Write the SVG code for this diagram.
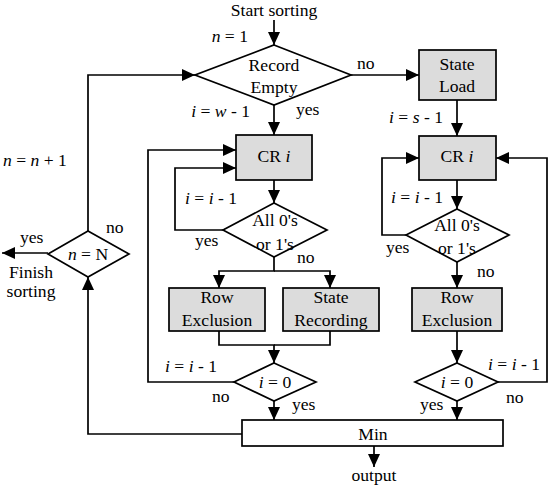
<svg xmlns="http://www.w3.org/2000/svg" width="548" height="488" viewBox="0 0 548 488" font-family="'Liberation Serif', 'DejaVu Serif', serif" font-size="17.6">
<style>
text{fill:#000}
.c{text-anchor:middle}
.e{text-anchor:end}
.box{fill:#dcdcdc;stroke:#000;stroke-width:1.7}
.wbox{fill:#fff;stroke:#000;stroke-width:1.7}
.dia{fill:#fff;stroke:#000;stroke-width:1.7}
.ln{fill:none;stroke:#000;stroke-width:1.7}
.a{marker-end:url(#ah)}
</style>
<defs>
<marker id="ah" markerUnits="userSpaceOnUse" markerWidth="14" markerHeight="12" refX="13" refY="6" orient="auto">
<path d="M0,0 L13,6 L0,12 Z" fill="#000"/>
</marker>
</defs>
<rect width="548" height="488" fill="#fff"/>
<g id="connectors">
<path class="ln a" d="M274,20 V45"/>
<path class="ln a" d="M274,105 V135"/>
<path class="ln a" d="M351,75 H419"/>
<path class="ln a" d="M457,100 V136"/>
<path class="ln a" d="M274,180 V203"/>
<path class="ln a" d="M223,230 H175 V168 H236"/>
<path class="ln a" d="M274,257 V271 H219 V288"/>
<path class="ln a" d="M274,271 H330 V288"/>
<path class="ln a" d="M219,331 V345 H274 V363"/>
<path class="ln" d="M330,331 V345 H274"/>
<path class="ln a" d="M234,382 H148 V150 H236"/>
<path class="ln a" d="M274,401 V420"/>
<path class="ln a" d="M242,434 H88 V277"/>
<path class="ln a" d="M88,231 V75 H195"/>
<path class="ln a" d="M48,253 H2"/>
<path class="ln a" d="M374,446 V467"/>
<path class="ln a" d="M457,180 V209"/>
<path class="ln a" d="M406,235 H382 V158 H419"/>
<path class="ln a" d="M457,262 V288"/>
<path class="ln a" d="M457,331 V363"/>
<path class="ln a" d="M498,382 H547 V158 H496"/>
<path class="ln a" d="M457,401 V420"/>
</g>
<g id="labels">
<text class="c" x="274" y="16">Start sorting</text>
<text class="e" x="248" y="42"><tspan font-style="italic">n</tspan> = 1</text>
<text x="357" y="69">no</text>
<text x="296" y="115">yes</text>
<text class="e" x="250" y="117"><tspan font-style="italic">i</tspan> = <tspan font-style="italic">w</tspan> - 1</text>
<text class="e" x="443" y="123"><tspan font-style="italic">i</tspan> = <tspan font-style="italic">s</tspan> - 1</text>
<text x="3" y="166"><tspan font-style="italic">n</tspan> = <tspan font-style="italic">n</tspan> + 1</text>
<text class="e" x="237" y="204"><tspan font-style="italic">i</tspan> = <tspan font-style="italic">i</tspan> - 1</text>
<text class="e" x="443" y="203"><tspan font-style="italic">i</tspan> = <tspan font-style="italic">i</tspan> - 1</text>
<text x="195" y="246">yes</text>
<text x="297" y="263">no</text>
<text x="386" y="253">yes</text>
<text x="477" y="277">no</text>
<text x="106" y="233">no</text>
<text x="20" y="243">yes</text>
<text class="c" x="31" y="278">Finish</text>
<text class="c" x="31" y="297">sorting</text>
<text class="e" x="217" y="372"><tspan font-style="italic">i</tspan> = <tspan font-style="italic">i</tspan> - 1</text>
<text class="e" x="540" y="370"><tspan font-style="italic">i</tspan> = <tspan font-style="italic">i</tspan> - 1</text>
<text x="212" y="402">no</text>
<text x="506" y="403">no</text>
<text x="292" y="410">yes</text>
<text x="420" y="410">yes</text>
<text class="c" x="374" y="481">output</text>
</g>
<g id="record-empty">
<path class="dia" d="M274,45 L351,75 L274,105 L195,75 Z"/>
<text class="c" x="274" y="71">Record</text>
<text class="c" x="274" y="93">Empty</text>
</g>
<g id="state-load">
<rect class="box" x="419" y="50" width="77" height="50"/>
<text class="c" x="457" y="70">State</text>
<text class="c" x="457" y="92">Load</text>
</g>
<g id="cr-left">
<rect class="box" x="236" y="135" width="76" height="45"/>
<text class="c" x="274" y="162">CR <tspan font-style="italic">i</tspan></text>
</g>
<g id="cr-right">
<rect class="box" x="419" y="136" width="77" height="44"/>
<text class="c" x="457" y="162">CR <tspan font-style="italic">i</tspan></text>
</g>
<g id="all-left">
<path class="dia" d="M274,203 L327,230 L274,257 L223,230 Z"/>
<text class="c" x="275" y="226">All 0's</text>
<text class="c" x="275" y="250">or 1's</text>
</g>
<g id="all-right">
<path class="dia" d="M457,209 L509,235 L457,262 L406,235 Z"/>
<text class="c" x="457" y="231">All 0's</text>
<text class="c" x="457" y="254">or 1's</text>
</g>
<g id="row-excl-left">
<rect class="box" x="169" y="288" width="96" height="43"/>
<text class="c" x="217" y="303">Row</text>
<text class="c" x="217" y="326">Exclusion</text>
</g>
<g id="state-rec">
<rect class="box" x="283" y="288" width="96" height="43"/>
<text class="c" x="331" y="303">State</text>
<text class="c" x="331" y="326">Recording</text>
</g>
<g id="row-excl-right">
<rect class="box" x="412" y="288" width="90" height="43"/>
<text class="c" x="457" y="303">Row</text>
<text class="c" x="457" y="326">Exclusion</text>
</g>
<g id="i0-left">
<path class="dia" d="M274,363 L316,382 L274,401 L234,382 Z"/>
<text class="c" x="275" y="388"><tspan font-style="italic">i</tspan> = 0</text>
</g>
<g id="i0-right">
<path class="dia" d="M457,363 L498,382 L457,401 L415,382 Z"/>
<text class="c" x="457" y="388"><tspan font-style="italic">i</tspan> = 0</text>
</g>
<g id="n-eq-N">
<path class="dia" d="M88,231 L129,254 L88,277 L48,254 Z"/>
<text class="c" x="88" y="260"><tspan font-style="italic">n</tspan> = N</text>
</g>
<g id="min">
<rect class="wbox" x="242" y="420" width="261" height="26"/>
<text class="c" x="373" y="440">Min</text>
</g>
</svg>
